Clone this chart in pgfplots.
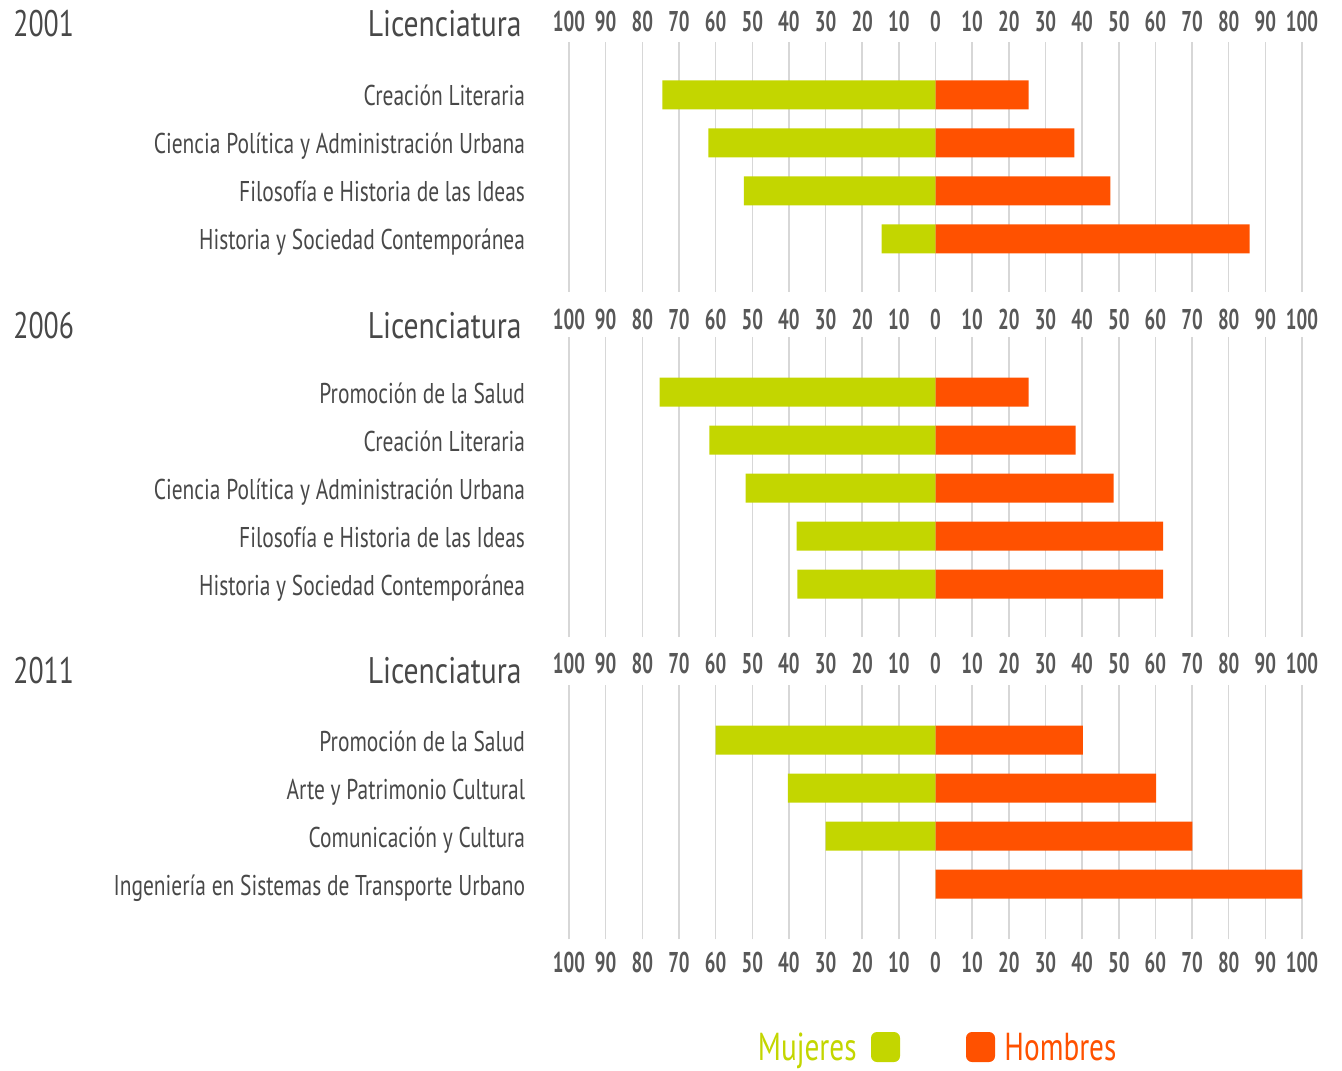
\documentclass[border=0pt]{standalone}
\usepackage{pgfplots}
\pgfplotsset{compat=1.18}
\usepackage{fontspec}
\setmainfont{PT Sans}[FakeStretch=0.75]
\newfontfamily\tickfont{PT Sans}[FakeStretch=0.66]
\newfontfamily\titlefont{PT Sans}[FakeStretch=0.80]
\definecolor{mujer}{RGB}{195,214,0}
\definecolor{hombre}{RGB}{255,81,0}
\definecolor{txt}{RGB}{72,72,72}
\definecolor{tickc}{RGB}{88,88,88}
\definecolor{gridc}{RGB}{215,215,215}

\pgfplotsset{
  panel/.style={
    x=1.8325pt, y=24pt,
    xmin=-100, xmax=100,
    scale only axis,
    anchor=north west,
    axis line style={draw=none},
    major tick length=0pt,
    xtick={-100,-90,...,100},
    xticklabels={100,90,80,70,60,50,40,30,20,10,0,10,20,30,40,50,60,70,80,90,100},
    xticklabel pos=upper,
    xmajorgrids,
    grid style={gridc, line width=0.75pt},
    xticklabel style={font=\fontsize{14.3}{16}\tickfont\bfseries, text=tickc, anchor=base, inner sep=0pt},
    yticklabel style={font=\fontsize{14.3}{16}\selectfont, text=txt, anchor=base east, inner sep=0pt, xshift=-21.8pt, yshift=-5.5pt},
    clip=false,
  },
  mbar/.style={xbar, bar width=14.5pt, bar shift=0pt, fill=mujer, draw=none},
  hbar/.style={xbar, bar width=14.5pt, bar shift=0pt, fill=hombre, draw=none},
}

\begin{document}
\begin{tikzpicture}
% ---------------- 2001 ----------------
\begin{axis}[panel, at={(284.5pt,-21pt)}, ymin=-4.1, ymax=1.1,
  xticklabel style={yshift=5pt},
  ytick={0,-1,-2,-3},
  yticklabels={Creación Literaria, Ciencia Política y Administración Urbana, Filosofía e Historia de las Ideas, Historia y Sociedad Contemporánea}]
\addplot[mbar] coordinates {(-74.5,0) (-62,-1) (-52.3,-2) (-14.7,-3)};
\addplot[hbar] coordinates {(25.4,0) (37.9,-1) (47.7,-2) (85.7,-3)};
\end{axis}
% ---------------- 2006 ----------------
\begin{axis}[panel, at={(284.5pt,-168.5pt)}, ymin=-5.1, ymax=1.15,
  xticklabel style={yshift=4pt},
  ytick={0,-1,-2,-3,-4},
  yticklabels={Promoción de la Salud, Creación Literaria, Ciencia Política y Administración Urbana, Filosofía e Historia de las Ideas, Historia y Sociedad Contemporánea}]
\addplot[mbar] coordinates {(-75.3,0) (-61.7,-1) (-51.8,-2) (-37.9,-3) (-37.7,-4)};
\addplot[hbar] coordinates {(25.4,0) (38.2,-1) (48.6,-2) (62.1,-3) (62.1,-4)};
\end{axis}
% ---------------- 2011 ----------------
\begin{axis}[panel, at={(284.5pt,-342.5pt)}, ymin=-4.15, ymax=1.15,
  xticklabel style={yshift=6pt},
  ytick={0,-1,-2,-3},
  yticklabels={Promoción de la Salud, Arte y Patrimonio Cultural, Comunicación y Cultura, Ingeniería en Sistemas de Transporte Urbano}]
\addplot[mbar] coordinates {(-60,0) (-40.3,-1) (-30,-2) (0,-3)};
\addplot[hbar] coordinates {(40.2,0) (60.2,-1) (70.1,-2) (100,-3)};
\pgfplotsinvokeforeach{-100,-90,...,100}{
  \node[anchor=base, inner sep=0pt, text=tickc, font=\fontsize{14.3}{16}\tickfont\bfseries, yshift=-16.5pt]
    at (axis cs:#1,-4.15) {\pgfmathparse{int(abs(#1))}\pgfmathresult};
}
\end{axis}
% ---------------- titles ----------------
\begin{scope}[every node/.style={inner sep=0pt, text=txt}]
\node[anchor=base west, font=\fontsize{18.5}{20}\selectfont] at (6.5pt,-18.5pt) {2001};
\node[anchor=base east, font=\fontsize{18.5}{20}\titlefont] at (261pt,-18.5pt) {Licenciatura};
\node[anchor=base west, font=\fontsize{18.5}{20}\selectfont] at (6.5pt,-169pt) {2006};
\node[anchor=base east, font=\fontsize{18.5}{20}\titlefont] at (261pt,-169pt) {Licenciatura};
\node[anchor=base west, font=\fontsize{18.5}{20}\selectfont] at (6.5pt,-341.5pt) {2011};
\node[anchor=base east, font=\fontsize{18.5}{20}\titlefont] at (261pt,-341.5pt) {Licenciatura};
\end{scope}
% ---------------- legend ----------------
\node[anchor=base east, inner sep=0pt, text=mujer, font=\fontsize{19.5}{22}\selectfont] at (428.5pt,-530pt) {Mujeres};
\fill[mujer, rounded corners=3pt] (435.5pt,-516pt) rectangle (450pt,-531pt);
\fill[hombre, rounded corners=3pt] (483pt,-516pt) rectangle (497.5pt,-531pt);
\node[anchor=base west, inner sep=0pt, text=hombre, font=\fontsize{19.5}{22}\selectfont] at (502pt,-530pt) {Hombres};
\pgfresetboundingbox
\useasboundingbox (0,0) rectangle (671pt,-535pt);
\end{tikzpicture}
\end{document}
